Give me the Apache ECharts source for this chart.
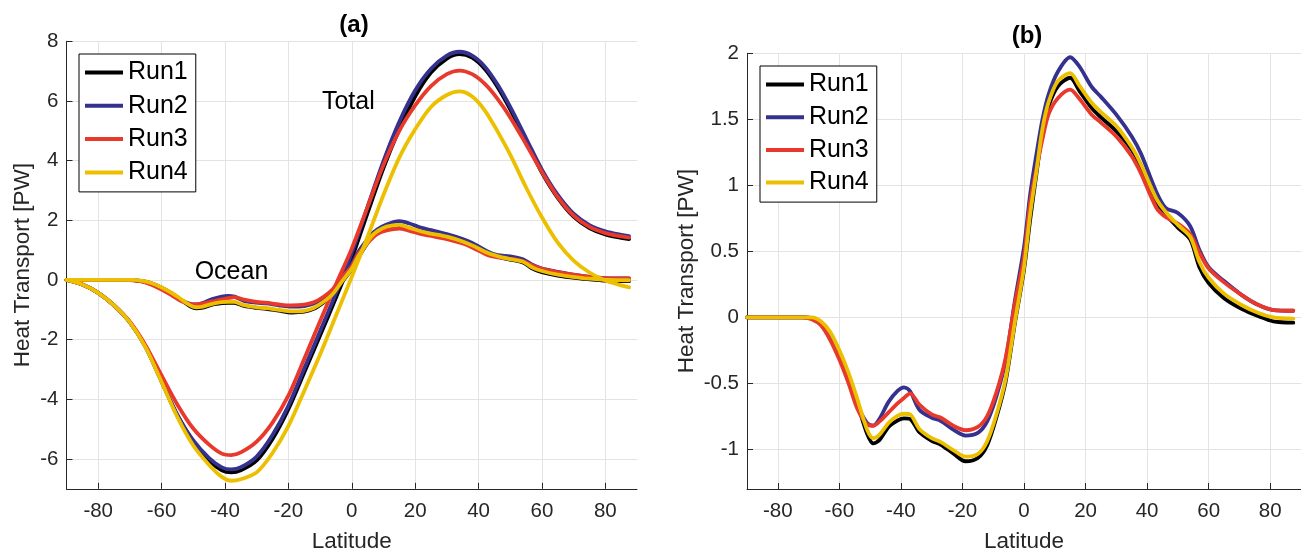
<!DOCTYPE html>
<html>
<head>
<meta charset="utf-8">
<script src="https://cdn.jsdelivr.net/npm/echarts@6/dist/echarts.min.js"></script>
<style>
  html, body { margin: 0; padding: 0; background: #ffffff; }
  #chart { width: 1301px; height: 551px; }
</style>
</head>
<body>
<div id="chart"></div>
<script>
// Meridional heat transport [PW] versus latitude for four model runs.

const runNames = ['Run1', 'Run2', 'Run3', 'Run4'];

// Total (atmosphere + ocean) transport
const latTotal = [-90, -85, -80, -75, -70, -65, -60, -55, -50, -45, -41, -38, -35, -30, -25, -20, -15, -10, -5,
  0, 5, 10, 15, 20, 25, 30, 34, 38, 42, 46, 50, 55, 60, 65, 70, 75, 80, 85, 87.5];
const totalRun1 = [0, -0.15, -0.43, -0.85, -1.42, -2.25, -3.4, -4.55, -5.42, -6.05, -6.38, -6.45, -6.38, -6.05, -5.33, -4.33, -3.1, -1.86, -0.6,
  0.72, 2.25, 3.75, 5.05, 6.15, 6.95, 7.42, 7.57, 7.45, 7.07, 6.47, 5.72, 4.66, 3.6, 2.75, 2.12, 1.74, 1.53, 1.41, 1.37];
const totalRun2 = [0, -0.15, -0.43, -0.85, -1.42, -2.25, -3.4, -4.52, -5.38, -5.97, -6.28, -6.35, -6.28, -5.92, -5.2, -4.22, -2.97, -1.72, -0.45,
  0.9, 2.45, 3.98, 5.3, 6.35, 7.08, 7.52, 7.65, 7.52, 7.15, 6.55, 5.8, 4.75, 3.7, 2.85, 2.22, 1.84, 1.63, 1.51, 1.47];
const totalRun3 = [0, -0.15, -0.43, -0.85, -1.4, -2.2, -3.2, -4.18, -4.98, -5.52, -5.82, -5.87, -5.78, -5.42, -4.78, -3.88, -2.65, -1.38, -0.15,
  1.05, 2.45, 3.85, 5.0, 5.85, 6.5, 6.9, 7.02, 6.9, 6.57, 6.07, 5.45, 4.55, 3.62, 2.78, 2.16, 1.78, 1.57, 1.46, 1.42];
const totalRun4 = [0, -0.15, -0.43, -0.85, -1.42, -2.27, -3.42, -4.6, -5.55, -6.2, -6.6, -6.73, -6.68, -6.45, -5.8, -4.9, -3.72, -2.5, -1.2,
  0.1, 1.45, 2.85, 4.1, 5.05, 5.8, 6.2, 6.32, 6.15, 5.68, 4.98, 4.2, 3.1, 2.1, 1.25, 0.65, 0.25, -0.02, -0.18, -0.25];

// Ocean transport (drawn in both panels)
const latOcean = [-90, -80, -72, -69, -66, -63, -60, -57, -54, -51, -49, -47, -44, -41, -39, -37, -34, -30, -27, -23,
  -19, -15, -12, -9, -6, -3, 0, 2, 4, 6, 8, 11, 15, 18, 22, 25, 30, 35, 38, 43, 46, 50, 54, 57, 60, 65, 71, 76, 81, 87.5];
const oceanRun1 = [0, 0, 0, -0.005, -0.04, -0.12, -0.26, -0.44, -0.66, -0.88, -0.955, -0.93, -0.83, -0.78, -0.765, -0.77, -0.87, -0.935, -0.965, -1.03,
  -1.09, -1.065, -0.97, -0.76, -0.49, -0.05, 0.36, 0.74, 1.08, 1.40, 1.60, 1.75, 1.815, 1.715, 1.585, 1.515, 1.41, 1.27, 1.14, 0.88,
  0.78, 0.68, 0.59, 0.38, 0.26, 0.145, 0.06, 0.01, -0.03, -0.04];
const oceanRun2 = [0, 0, 0, -0.005, -0.05, -0.14, -0.28, -0.46, -0.67, -0.80, -0.82, -0.77, -0.64, -0.555, -0.53, -0.56, -0.70, -0.76, -0.785, -0.85,
  -0.895, -0.875, -0.79, -0.60, -0.33, 0.12, 0.53, 0.93, 1.23, 1.50, 1.69, 1.86, 1.97, 1.90, 1.745, 1.67, 1.535, 1.37, 1.24, 0.95,
  0.83, 0.79, 0.69, 0.51, 0.38, 0.275, 0.165, 0.095, 0.055, 0.05];
const oceanRun3 = [0, 0, 0, -0.015, -0.06, -0.17, -0.32, -0.50, -0.70, -0.81, -0.82, -0.79, -0.72, -0.65, -0.61, -0.575, -0.66, -0.735, -0.76, -0.82,
  -0.855, -0.83, -0.75, -0.57, -0.31, 0.10, 0.46, 0.87, 1.12, 1.35, 1.54, 1.66, 1.725, 1.655, 1.535, 1.475, 1.37, 1.22, 1.09, 0.83,
  0.76, 0.71, 0.63, 0.49, 0.37, 0.265, 0.165, 0.095, 0.055, 0.05];
const oceanRun4 = [0, 0, 0, 0, -0.03, -0.11, -0.25, -0.42, -0.63, -0.85, -0.915, -0.89, -0.80, -0.745, -0.73, -0.735, -0.845, -0.915, -0.945, -1.005,
  -1.055, -1.035, -0.94, -0.74, -0.47, -0.04, 0.38, 0.78, 1.10, 1.43, 1.63, 1.79, 1.85, 1.755, 1.625, 1.555, 1.45, 1.29, 1.16, 0.90,
  0.80, 0.70, 0.61, 0.42, 0.30, 0.18, 0.09, 0.035, 0.0, -0.01];

// Tick labels
const xTicks = [-80, -60, -40, -20, 0, 20, 40, 60, 80];
const yTicksA = [-6, -4, -2, 0, 2, 4, 6, 8];
const yTicksB = [-1, -0.5, 0, 0.5, 1, 1.5, 2];

// Styling
const runColors = ['#000000', '#35318e', '#e8392c', '#ecc000'];
const FONT = 'Liberation Sans, Arial, Helvetica, sans-serif';
const AXIS_COLOR = '#262626';
const GRID_COLOR = '#e3e3e3';

const totals = [totalRun1, totalRun2, totalRun3, totalRun4];
const oceans = [oceanRun1, oceanRun2, oceanRun3, oceanRun4];

function pairs(lat, vals) {
  return lat.map((x, i) => [x, vals[i]]);
}

function lineSeries(name, color, data, axisIndex, order) {
  return {
    name: name,
    type: 'line',
    xAxisIndex: axisIndex,
    yAxisIndex: axisIndex,
    data: data,
    symbol: 'none',
    showSymbol: false,
    smooth: 0.3,
    silent: true,
    z: 2 + order,
    lineStyle: { width: 3.8, color: color, cap: 'round', join: 'round' },
    itemStyle: { color: color },
    emphasis: { disabled: true }
  };
}

const series = [];
runNames.forEach((name, i) => {
  series.push(lineSeries(name, runColors[i], pairs(latTotal, totals[i]), 0, i));
  series.push(lineSeries(name, runColors[i], pairs(latOcean, oceans[i]), 0, i));
});
runNames.forEach((name, i) => {
  series.push(lineSeries(name, runColors[i], pairs(latOcean, oceans[i]), 1, i));
});

function xAxisDef(gridIndex) {
  return {
    gridIndex: gridIndex,
    type: 'value',
    min: -90,
    max: 90,
    name: 'Latitude',
    nameLocation: 'middle',
    nameGap: 41,
    nameTextStyle: { fontSize: 22.5, color: AXIS_COLOR, fontFamily: FONT },
    axisLine: { show: true, onZero: false, lineStyle: { color: AXIS_COLOR, width: 1 } },
    axisTick: { show: true, inside: true, length: 6, customValues: xTicks, lineStyle: { color: AXIS_COLOR } },
    axisLabel: { customValues: xTicks, fontSize: 20.5, color: AXIS_COLOR, fontFamily: FONT, margin: 12 },
    splitLine: { show: true, lineStyle: { color: GRID_COLOR, width: 1 } }
  };
}

function yAxisDef(gridIndex, min, max, ticks, gap) {
  return {
    gridIndex: gridIndex,
    type: 'value',
    min: min,
    max: max,
    name: 'Heat Transport [PW]',
    nameLocation: 'middle',
    nameRotate: 90,
    nameGap: gap,
    nameTextStyle: { fontSize: 22.5, color: AXIS_COLOR, fontFamily: FONT },
    axisLine: { show: true, onZero: false, lineStyle: { color: AXIS_COLOR, width: 1 } },
    axisTick: { show: true, inside: true, length: 6, customValues: ticks, lineStyle: { color: AXIS_COLOR } },
    axisLabel: { customValues: ticks, fontSize: 20.5, color: AXIS_COLOR, fontFamily: FONT, margin: 8 },
    splitLine: { show: true, lineStyle: { color: GRID_COLOR, width: 1 } }
  };
}

function legendDef(left, top, gap) {
  return {
    left: left,
    top: top,
    orient: 'vertical',
    icon: 'rect',
    itemWidth: 38,
    itemHeight: 4,
    itemGap: gap,
    padding: [6, 8, 7, 6],
    borderColor: '#000000',
    borderWidth: 1,
    backgroundColor: '#ffffff',
    selectedMode: false,
    textStyle: { fontSize: 25, color: '#000000', fontFamily: FONT },
    data: runNames
  };
}

function label(text, x, y, size, weight) {
  return {
    type: 'text', x: x, y: y, z: 100, silent: true,
    style: { text: text, fontSize: size, fontWeight: weight, fontFamily: FONT, fill: '#000', align: 'center', verticalAlign: 'middle' }
  };
}

const chart = echarts.init(document.getElementById('chart'), null, { renderer: 'canvas' });
chart.setOption({
  animation: false,
  backgroundColor: '#ffffff',
  grid: [
    { left: 66.5, top: 41.3, width: 570.5, height: 447.5, containLabel: false, outerBoundsMode: 'none' },
    { left: 747, top: 53.3, width: 554, height: 435.7, containLabel: false, outerBoundsMode: 'none' }
  ],
  xAxis: [xAxisDef(0), xAxisDef(1)],
  yAxis: [yAxisDef(0, -7, 8, yTicksA, 32), yAxisDef(1, -1.3, 2, yTicksB, 49)],
  legend: [legendDef(79, 54, 8.3), legendDef(760, 66, 7.7)],
  graphic: [
    label('(a)', 354, 25, 24, 'bold'),
    label('(b)', 1027, 36, 24, 'bold'),
    label('Total', 348.3, 102.5, 25, 'normal'),
    label('Ocean', 231.5, 272, 25, 'normal')
  ],
  series: series
});
</script>
</body>
</html>
